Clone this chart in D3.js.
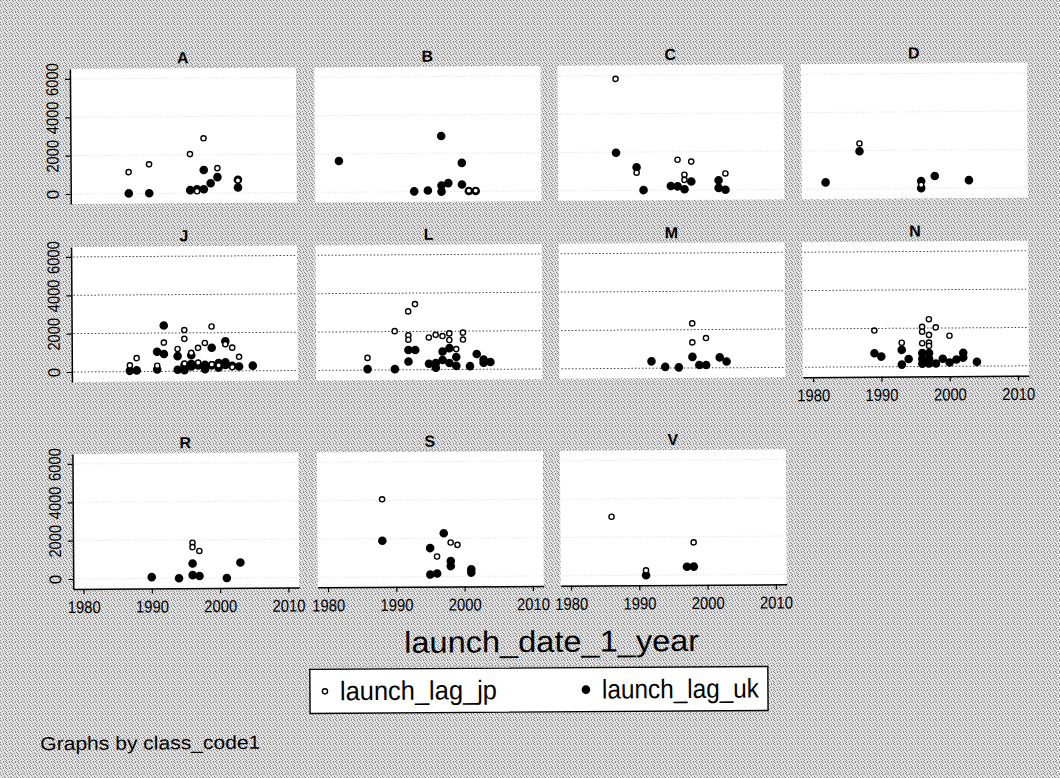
<!DOCTYPE html>
<html>
<head>
<meta charset="utf-8">
<script src="https://cdn.jsdelivr.net/npm/d3@7/dist/d3.min.js"></script>
<style>
  body { margin: 0; background: #c8c8c8; }
  svg { display: block; font-family: "Liberation Sans", Arial, sans-serif; }
</style>
</head>
<body>
<svg id="chart"></svg>
<script>
// panel labels (class_code1)
const panels = ["A", "B", "C", "D", "J", "L", "M", "N", "R", "S", "V"];

// [launch_date_1_year, launch_lag]
const A_jp = [[1987,1120],[1990,1520],[1996,2040],[1997,100],[1998,2860],[2000,1300],[2003,650]];
const A_uk = [[1987,10],[1990,10],[1996,160],[1997,200],[1998,200],[1998,1210],[1999,510],[2000,830],[2003,690],[2003,280]];
const B_jp = [[2001,40],[2002,40]];
const B_uk = [[1982,1630],[1997,2900],[2000,1490],[1993,20],[1995,60],[1997,320],[1997,0],[1998,440],[2000,360],[2001,20],[2002,20]];
const C_jp = [[1987,5820],[1990,920],[1996,1580],[1998,1480],[1997,800],[1997,530],[2003,850]];
const C_uk = [[1987,1965],[1990,1200],[1991,10],[1995,215],[1996,195],[1997,40],[1998,440],[2002,500],[2002,100],[2003,0]];
const D_jp = [[1987,2370],[1996,190]];
const D_uk = [[1982,350],[1987,1960],[1996,390],[1996,20],[1998,650],[2003,420]];
const J_jp = [[1995,2150],[1995,1690],[1999,2325],[1992,1500],[1988,700],[1987,325],[1991,300],[1994,1165],[1996,960],[1997,1215],[1998,1470],[2001,1400],[2002,1215],[2003,735],[1995,400],[1997,450],[1999,350],[2000,300],[2002,200]];
const J_uk = [[1992,2395],[1991,1025],[1992,905],[1987,40],[1988,60],[1991,100],[1994,790],[1994,80],[1995,60],[1996,830],[1999,1215],[2001,1555],[2005,270],[1995,320],[1996,380],[1996,250],[1997,300],[1998,330],[1999,300],[2000,420],[2001,450],[2001,320],[2002,270],[2003,230],[1998,100],[2000,180]];
const L_jp = [[1986,635],[1990,2020],[1992,3045],[1993,3425],[1992,1800],[1992,1570],[1995,1680],[1996,1815],[1997,1750],[1998,1885],[1998,1540],[2000,1920],[2000,1560],[1999,1065]];
const L_uk = [[1986,50],[1990,40],[1992,1030],[1993,1030],[1992,430],[1995,310],[1996,340],[1996,100],[1997,940],[1998,1115],[1998,340],[1999,650],[1999,190],[2001,170],[2002,800],[2003,515],[2004,380],[2003,350],[1997,500]];
const M_jp = [[1998,2325],[1998,1335],[2000,1555]];
const M_uk = [[1992,360],[1994,65],[1996,35],[1998,580],[1999,150],[2000,150],[2002,545],[2003,325]];
const N_jp = [[1989,1890],[1993,1245],[1996,2070],[1996,1815],[1996,1215],[1997,2465],[1997,1645],[1997,1245],[1997,1075],[1998,2035],[2000,1595]];
const N_uk = [[1989,705],[1990,530],[1993,875],[1993,105],[1994,395],[1996,700],[1996,400],[1996,150],[1997,700],[1997,400],[1997,150],[1998,150],[1999,400],[2000,200],[2001,350],[2002,450],[2002,700],[2004,225]];
const R_jp = [[1996,1850],[1996,1620],[1997,1420]];
const R_uk = [[1990,70],[1994,0],[1996,770],[1996,160],[1997,110],[2001,0],[2003,805]];
const S_jp = [[1988,4050],[1996,1050],[1998,1775],[1999,1650]];
const S_uk = [[1988,1890],[1997,2260],[1995,1490],[1998,810],[1998,545],[2001,370],[2001,200],[1995,110],[1996,160]];
const V_jp = [[1986,3065],[1998,1700],[1991,260]];
const V_uk = [[1991,0],[1997,435],[1998,435]];

const xTicks = [1980, 1990, 2000, 2010];
const yTicks = [0, 2000, 4000, 6000];
const seriesNames = ["launch_lag_jp", "launch_lag_uk"];
const xTitle = "launch_date_1_year";
const note = "Graphs by class_code1";

const jpBy = {A: A_jp, B: B_jp, C: C_jp, D: D_jp, J: J_jp, L: L_jp, M: M_jp, N: N_jp, R: R_jp, S: S_jp, V: V_jp};
const ukBy = {A: A_uk, B: B_uk, C: C_uk, D: D_uk, J: J_uk, L: L_uk, M: M_uk, N: N_uk, R: R_uk, S: S_uk, V: V_uk};

//layout
const width = 1060, height = 778;
const colX = [72, 316.5, 559.5, 803];
const rowY = [66, 244, 451];
const pw = 226, ph = 135;
const gridOpacity = [0.12, 0.9, 0.12];

const svg = d3.select("#chart").attr("width", width).attr("height", height);

// scanned grey background
const pat = svg.append("defs").append("pattern")
  .attr("id", "dither").attr("width", 6).attr("height", 6)
  .attr("patternUnits", "userSpaceOnUse");
pat.append("rect").attr("width", 6).attr("height", 6).attr("fill", "#e2e2e2");
[[0,0],[3,0],[1,1],[4,2],[2,3],[5,3],[0,4],[3,5],[5,5]].forEach(p => {
  pat.append("rect").attr("x", p[0]).attr("y", p[1]).attr("width", 1).attr("height", 1).attr("fill", "#888");
});
svg.append("rect").attr("width", width).attr("height", height).attr("fill", "url(#dither)");

// the scan is a little tilted
const g = svg.append("g").attr("transform", "rotate(-0.37 530 389)");

const x = d3.scaleLinear().domain([1978.5, 2011.6]).range([0, pw]);
const y = d3.scaleLinear().domain([-520, 6520]).range([ph, 0]);

panels.forEach((name, i) => {
  const row = Math.floor(i / 4), col = i % 4;
  const p = g.append("g").attr("transform", "translate(" + colX[col] + "," + rowY[row] + ")");

  p.append("rect").attr("width", pw).attr("height", ph).attr("fill", "#fff");

  p.selectAll(".grid").data(yTicks).enter().append("line")
    .attr("x1", 2).attr("x2", pw - 2)
    .attr("y1", d => y(d)).attr("y2", d => y(d))
    .attr("stroke", "#333").attr("stroke-width", 1)
    .attr("stroke-dasharray", "1.5,2")
    .attr("opacity", gridOpacity[row]);

  p.append("text")
    .attr("x", pw / 2).attr("y", -5)
    .attr("text-anchor", "middle")
    .attr("font-size", 16)
    .attr("font-weight", "bold")
    .text(name);

  if (col === 0) {
    const ya = p.append("g").call(d3.axisLeft(y).tickValues(yTicks).tickSize(5).tickSizeOuter(0).tickFormat(d3.format("d")));
    ya.select(".domain").attr("stroke-width", 1.5);
    ya.selectAll("line").attr("stroke-width", 1.2);
    ya.selectAll("text")
      .attr("transform", "rotate(-90)")
      .attr("x", 0).attr("y", -12).attr("dy", 0)
      .attr("text-anchor", "middle")
      .attr("font-size", 17)
      .attr("font-family", "Liberation Sans, Arial, sans-serif")
      .attr("fill", "#000")
      .each(function(d) {
        const s = String(d);
        if (s.length > 1) d3.select(this).attr("textLength", 8.2 * s.length).attr("lengthAdjust", "spacingAndGlyphs");
      });
  }

  if (row === 2 || name === "N") {
    const xa = p.append("g").attr("transform", "translate(0," + ph + ")")
      .call(d3.axisBottom(x).tickValues(xTicks).tickSize(5).tickSizeOuter(0).tickFormat(d3.format("d")));
    xa.select(".domain").attr("stroke-width", 1.5);
    xa.selectAll("line").attr("stroke-width", 1.2);
    xa.selectAll("text")
      .attr("y", 12)
      .attr("font-size", 17)
      .attr("font-family", "Liberation Sans, Arial, sans-serif")
      .attr("fill", "#000")
      .attr("textLength", 33).attr("lengthAdjust", "spacingAndGlyphs");
  }

  p.selectAll(".uk").data(ukBy[name]).enter().append("circle")
    .attr("cx", d => x(d[0])).attr("cy", d => y(d[1]))
    .attr("r", 4.3).attr("fill", "#000");

  p.selectAll(".jp").data(jpBy[name]).enter().append("circle")
    .attr("cx", d => x(d[0])).attr("cy", d => y(d[1]))
    .attr("r", 2.6).attr("fill", "#fff")
    .attr("stroke", "#000").attr("stroke-width", 1.4);
});

// x axis title
g.append("text")
  .attr("x", 550).attr("y", 652)
  .attr("text-anchor", "middle")
  .attr("font-size", 30)
  .attr("textLength", 295).attr("lengthAdjust", "spacingAndGlyphs")
  .text(xTitle);

// legend
const lg = g.append("g").attr("transform", "translate(308,668)");
lg.append("rect").attr("width", 458).attr("height", 44)
  .attr("fill", "#fff").attr("stroke", "#000").attr("stroke-width", 1.4);
lg.append("circle").attr("cx", 15).attr("cy", 22).attr("r", 2.6)
  .attr("fill", "#fff").attr("stroke", "#000").attr("stroke-width", 1.4);
lg.append("circle").attr("cx", 276).attr("cy", 22).attr("r", 4.3).attr("fill", "#000");
lg.selectAll(".lab").data(seriesNames).enter().append("text")
  .attr("x", (d, i) => i === 0 ? 30 : 292)
  .attr("y", 31)
  .attr("font-size", 27)
  .attr("textLength", 157).attr("lengthAdjust", "spacingAndGlyphs")
  .text(d => d);

g.append("text")
  .attr("x", 38).attr("y", 747)
  .attr("font-size", 19)
  .attr("textLength", 220).attr("lengthAdjust", "spacingAndGlyphs")
  .text(note);
</script>
</body>
</html>
